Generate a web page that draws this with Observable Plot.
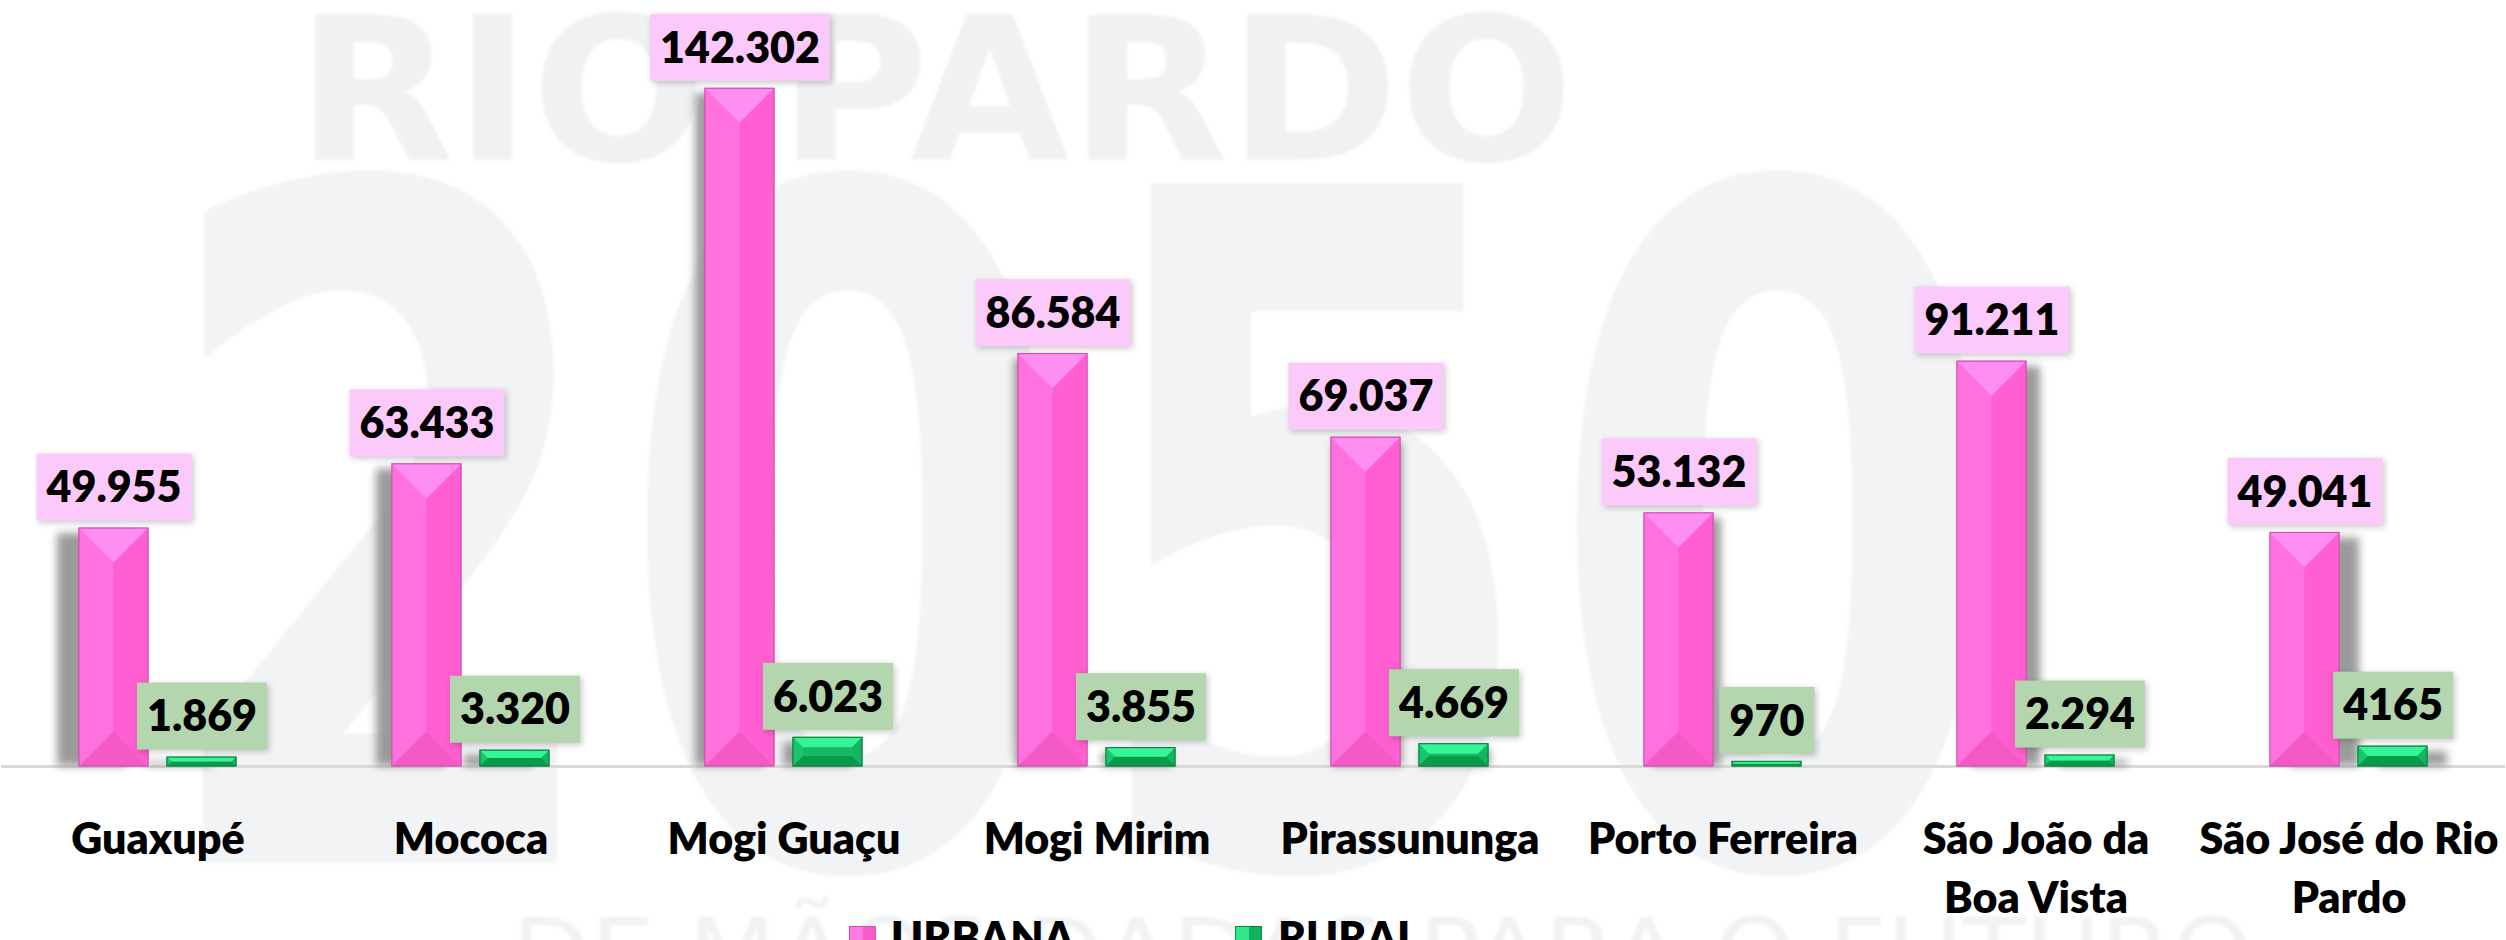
<!DOCTYPE html>
<html>
<head>
<meta charset="utf-8">
<script src="https://cdn.jsdelivr.net/npm/d3@7"></script>
<script src="https://cdn.jsdelivr.net/npm/@observablehq/plot@0.6"></script>
<style>
html, body { margin: 0; padding: 0; background: #fff; }
#wrap { position: relative; width: 2506px; height: 940px; overflow: hidden; font-family: Lato, "Open Sans", sans-serif; }
#wm { position: absolute; left: 0; top: 0; }
#chart { position: absolute; left: 0; top: 0; }
.lg-text { position: absolute; top: 915px; font: 800 43px/1 Lato, sans-serif; color: #000; white-space: nowrap; }
.lg-sw { position: absolute; top: 926px; width: 27px; height: 36px; box-sizing: border-box; }
</style>
</head>
<body>
<div id="wrap">
  <svg id="wm" width="2506" height="940" aria-hidden="true">
    <g style="filter: blur(1.5px)">
      <text x="296" y="160" fill="#f0f1f3" font-family="DejaVu Sans" font-weight="bold" font-size="200" textLength="1278" lengthAdjust="spacingAndGlyphs">RIO PARDO</text>
      <text x="150" y="863" fill="#f2f3f5" font-family="DejaVu Sans" font-weight="bold" font-size="933" textLength="1860" lengthAdjust="spacingAndGlyphs">2050</text>
      <text x="511" y="990" fill="#f1f2f4" font-family="DejaVu Sans" font-size="100" textLength="1742" lengthAdjust="spacingAndGlyphs">DE MÃOS DADAS PARA O FUTURO</text>
    </g>
  </svg>
  <div id="chart"></div>
  <div class="lg-sw" style="left:849px;background:linear-gradient(90deg,#ff79e4 0%,#ff79e4 50%,#f65ccb 50%,#f65ccb 100%);border:1px solid #d94fb5;"></div>
  <div class="lg-text" style="left:891px;">URBANA</div>
  <div class="lg-sw" style="left:1235px;background:linear-gradient(90deg,#2ee88a 0%,#2ee88a 50%,#10b060 50%,#10b060 100%);border:1px solid #0a8a45;"></div>
  <div class="lg-text" style="left:1278px;">RURAL</div>
</div>
<script>
// ---- data ----
const cities = ["Guaxupé", "Mococa", "Mogi Guaçu", "Mogi Mirim", "Pirassununga", "Porto Ferreira", "São João da\nBoa Vista", "São José do Rio\nPardo"];
const series = ["URBANA", "RURAL"];
const urbana = [49955, 63433, 142302, 86584, 69037, 53132, 85000, 49041];
const rural = [1869, 3320, 6023, 3855, 4669, 970, 2294, 4165];
const urbanaLabels = ["49.955", "63.433", "142.302", "86.584", "69.037", "53.132", "91.211", "49.041"];
const ruralLabels = ["1.869", "3.320", "6.023", "3.855", "4.669", "970", "2.294", "4165"];
const seriesColors = ["#ff66d9", "#16b865"];
const boxColors = ["#fcc9fb", "#b4d6ae"];

const rows = [];
cities.forEach((c, k) => {
  rows.push({city: c, series: series[0], value: urbana[k], label: urbanaLabels[k]});
  rows.push({city: c, series: series[1], value: rural[k], label: ruralLabels[k]});
});

// ---- decoration helpers ----
const NS = "http://www.w3.org/2000/svg";
const faces = {
  URBANA: {top: "#ff8ef2", left: "#ff72de", right: "#ff5fd0", bottom: "#f35ac6", stroke: "#d44eb0", bevel: 35},
  RURAL: {top: "#36f596", left: "#18c66b", right: "#12b560", bottom: "#0a9a4c", stroke: "#08803f", bevel: 10}
};
function poly(pts, fill) {
  const p = document.createElementNS(NS, "polygon");
  p.setAttribute("points", pts.map(d => d.join(",")).join(" "));
  p.setAttribute("fill", fill);
  return p;
}
function bevelRender(index, scales, values, dimensions, context, next) {
  const g = next(index, scales, values, dimensions, context);
  const rects = Array.from(g.querySelectorAll("rect"));
  const shadows = [];
  for (const r of rects) {
    const i = r.__data__;
    const d = rows[i];
    const f = faces[d.series];
    const x = +r.getAttribute("x"), y = +r.getAttribute("y");
    const w = +r.getAttribute("width"), h = +r.getAttribute("height");
    const ci = cities.indexOf(d.city);
    const sdx = (ci - 3.67) * 6;
    const s = document.createElementNS(NS, "rect");
    s.setAttribute("x", x + sdx);
    s.setAttribute("y", y + 5);
    s.setAttribute("width", w);
    s.setAttribute("height", Math.max(0, h - 5));
    s.setAttribute("fill", "#8a8a8a");
    s.setAttribute("opacity", "0.85");
    s.setAttribute("style", "filter: blur(4px)");
    shadows.push(s);
    const b = Math.min(f.bevel, w / 2, h / 2);
    const parent = r.parentNode, nextSib = r.nextSibling;
    const add = el => parent.insertBefore(el, nextSib);
    add(poly([[x, y], [x + b, y + b], [x + b, y + h - b], [x, y + h]], f.left));
    add(poly([[x + w, y], [x + w - b, y + b], [x + w - b, y + h - b], [x + w, y + h]], f.right));
    add(poly([[x, y + h], [x + w, y + h], [x + w - b, y + h - b], [x + b, y + h - b]], f.bottom));
    add(poly([[x, y], [x + w, y], [x + w - b, y + b], [x + b, y + b]], f.top));
    r.setAttribute("stroke", f.stroke);
    r.setAttribute("stroke-width", "1");
  }
  const first = g.firstChild;
  for (const s of shadows) g.insertBefore(s, first);
  for (const r of rects) {
    const o = r.cloneNode();
    o.setAttribute("fill", "none");
    g.appendChild(o);
  }
  return g;
}
const measureCtx = document.createElement("canvas").getContext("2d");
function boxRender(index, scales, values, dimensions, context, next) {
  const g = next(index, scales, values, dimensions, context);
  measureCtx.font = "800 43px Lato";
  const texts = Array.from(g.querySelectorAll("text"));
  const first = g.firstChild;
  for (const t of texts) {
    const i = t.__data__;
    const d = rows[i];
    const tw = measureCtx.measureText(d.label).width;
    const w = tw + 20, h = 67;
    const rct = document.createElementNS(NS, "rect");
    rct.setAttribute("x", values.x[i] - w / 2);
    rct.setAttribute("y", values.y[i] - 35);
    rct.setAttribute("width", w);
    rct.setAttribute("height", h);
    rct.setAttribute("fill", boxColors[series.indexOf(d.series)]);
    rct.setAttribute("style", "filter: drop-shadow(2px 2px 3px rgba(0,0,0,0.22))");
    g.insertBefore(rct, first);
  }
  return g;
}

const chart = Plot.plot({
  width: 2506,
  height: 900,
  marginTop: 4,
  marginBottom: 134,
  marginLeft: 0,
  marginRight: 0,
  style: {background: "transparent", fontFamily: "Lato, sans-serif", color: "#000", overflow: "visible"},
  fx: {domain: cities, padding: 0, label: null},
  x: {domain: series, paddingInner: 0.213, paddingOuter: 0.865, axis: null},
  y: {domain: [0, 160000], axis: null},
  color: {domain: series, range: seriesColors},
  marks: [
    Plot.ruleY([0], {stroke: "#d9d9d9", strokeWidth: 3}),
    Plot.barY(rows, {fx: "city", x: "series", y: "value", fill: "series", render: bevelRender}),
    Plot.text(rows, {fx: "city", x: "series", y: "value", text: "label", dy: -40, lineAnchor: "middle",
      fontSize: 43, fontWeight: 800, fill: "#000", render: boxRender}),
    Plot.axisFx({anchor: "bottom", tickSize: 0, tickPadding: 46, fontSize: 43, fontWeight: 800, lineHeight: 1.37, label: null, fill: "#000"})
  ]
});
document.getElementById("chart").appendChild(chart);
</script>
</body>
</html>
